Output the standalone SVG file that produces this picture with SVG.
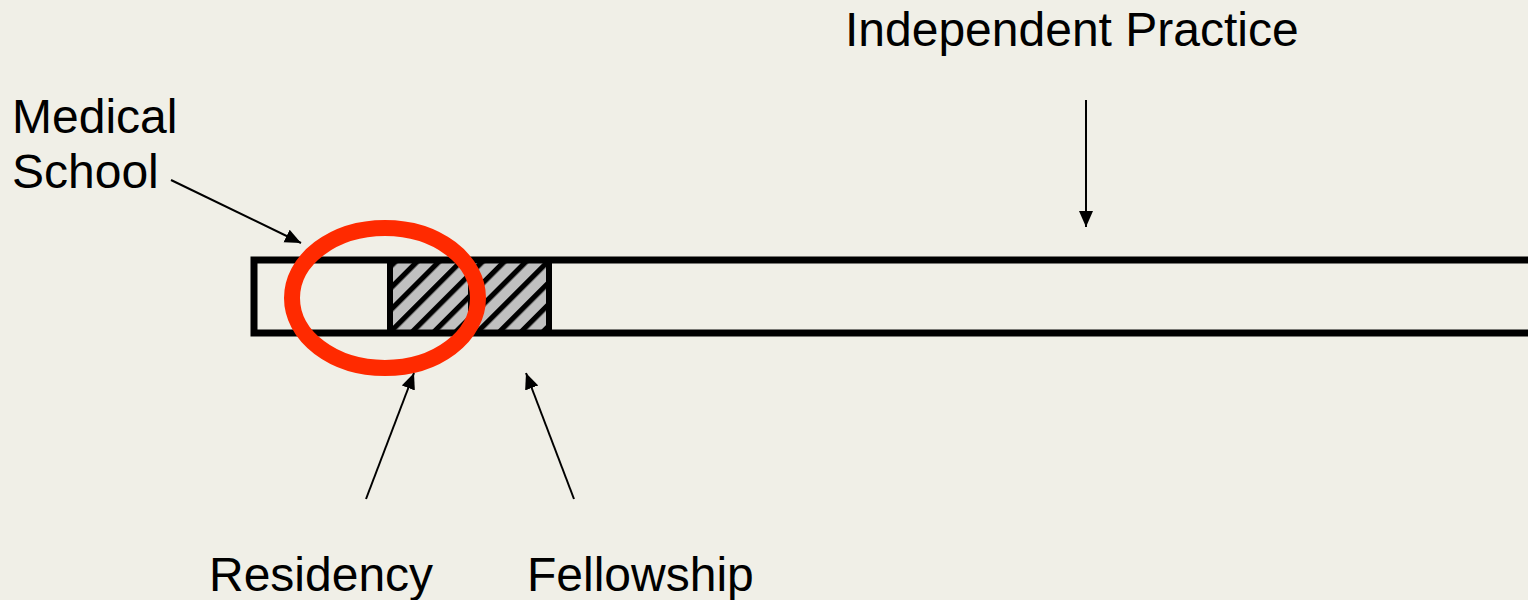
<svg xmlns="http://www.w3.org/2000/svg" width="1528" height="600" viewBox="0 0 1528 600">
  <style>
    .label { font-family: "Liberation Sans", Arial, sans-serif; font-size: 48px; fill: #000; }
    .conn { stroke: #000; stroke-width: 2; fill: none; marker-end: url(#head); }
    .frame { fill: none; stroke: #000; stroke-width: 7; }
    .divider { stroke: #000; stroke-width: 6; }
  </style>
  <defs>
    <marker id="head" markerUnits="userSpaceOnUse" markerWidth="17" markerHeight="15" refX="16" refY="7" orient="auto">
      <path d="M0,0 L16,7 L0,14 z" fill="#000"/>
    </marker>
    <pattern id="hatch" patternUnits="userSpaceOnUse" width="15.4" height="20" patternTransform="rotate(45)">
      <rect width="15.4" height="20" fill="#c0c0c0"/>
      <rect width="5.2" height="20" fill="#000"/>
    </pattern>
  </defs>

  <rect width="1528" height="600" fill="#f0efe7"/>

  <!-- timeline bar -->
  <g id="timeline">
    <rect x="390" y="260" width="159" height="73" fill="url(#hatch)"/>
    <rect class="frame" x="254" y="260" width="1290" height="73"/>
    <line class="divider" x1="390" y1="260" x2="390" y2="333"/>
    <line class="divider" x1="471" y1="260" x2="471" y2="333"/>
    <line class="divider" x1="549" y1="260" x2="549" y2="333"/>
  </g>

  <!-- highlight around medical school / residency -->
  <g id="highlight">
    <ellipse cx="385" cy="298" rx="93" ry="70" fill="none" stroke="#ff2a00" stroke-width="16"/>
  </g>

  <g id="medical-school">
    <text class="label" x="12" y="133">Medical</text>
    <text class="label" x="12" y="188">School</text>
  </g>
  <g id="independent-practice">
    <text class="label" x="845" y="46">Independent Practice</text>
  </g>
  <g id="residency">
    <text class="label" x="209" y="591">Residency</text>
  </g>
  <g id="fellowship">
    <text class="label" x="527" y="591">Fellowship</text>
  </g>

  <g id="connectors">
    <line class="conn" x1="171" y1="180" x2="301" y2="243"/>
    <line class="conn" x1="1086" y1="100" x2="1086" y2="227"/>
    <line class="conn" x1="366" y1="499" x2="414" y2="373"/>
    <line class="conn" x1="574" y1="499" x2="526" y2="373"/>
  </g>
</svg>
